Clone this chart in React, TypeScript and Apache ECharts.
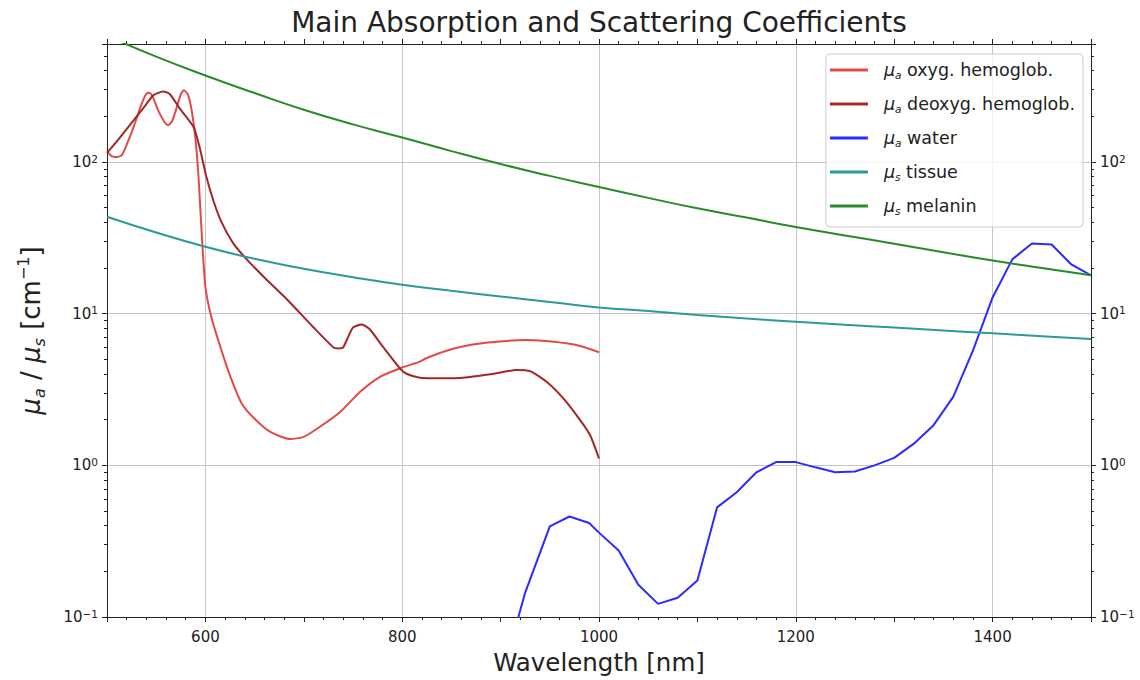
import React, { useEffect, useRef } from "react";
import * as echarts from "echarts";

const oxyWavelength = [500, 505, 510, 515, 520, 527, 535, 540, 543, 547, 552, 558, 562, 566, 570, 575, 578, 582, 586, 590, 593, 596, 600, 606, 615, 625, 637, 650, 666, 686, 700, 716, 737, 757, 777, 798, 818, 825, 845, 865, 896, 926, 954, 980, 1000];
const oxyMuA = [118, 109, 108, 111, 130, 170, 240, 282, 286, 265, 219, 185, 175, 185, 220, 280, 297, 280, 220, 140, 80, 36, 15, 9.5, 6.1, 3.9, 2.55, 2.03, 1.66, 1.49, 1.54, 1.79, 2.25, 3.04, 3.82, 4.37, 4.83, 5.1, 5.7, 6.15, 6.53, 6.7, 6.53, 6.15, 5.57];

const deoxyWavelength = [500, 510, 527, 540, 547, 557, 564, 574, 588, 594, 601, 608, 616, 628, 642, 662, 683, 710, 730, 735, 740, 745, 750, 759, 767, 780, 798, 805, 818, 840, 862, 896, 916, 930, 947, 964, 981, 991, 1000];
const deoxyMuA = [115, 137, 188, 241, 275, 292, 280, 225, 170, 126, 80, 56, 40.6, 29.3, 22.8, 16.8, 12.4, 8.1, 6.0, 5.9, 6.0, 7.0, 8.1, 8.5, 7.9, 6.1, 4.33, 4.0, 3.78, 3.75, 3.78, 4.05, 4.26, 4.18, 3.54, 2.75, 1.98, 1.58, 1.11];

const waterWavelength = [915, 925, 950, 970, 990, 1000, 1020, 1040, 1060, 1080, 1100, 1120, 1140, 1160, 1180, 1200, 1220, 1240, 1260, 1280, 1300, 1320, 1340, 1360, 1380, 1400, 1420, 1440, 1460, 1480, 1500];
const waterMuA = [0.085, 0.145, 0.396, 0.46, 0.417, 0.36, 0.274, 0.163, 0.122, 0.134, 0.174, 0.528, 0.665, 0.9, 1.05, 1.05, 0.97, 0.9, 0.91, 1.0, 1.12, 1.39, 1.84, 2.83, 5.7, 12.8, 22.8, 29, 28.6, 21.1, 17.9];

const scatterWavelength = [500, 550, 600, 650, 700, 750, 800, 850, 900, 950, 1000, 1050, 1100, 1150, 1200, 1250, 1300, 1350, 1400, 1450, 1500];
const tissueMuS = [43.6, 34.3, 27.6, 23.0, 19.8, 17.4, 15.5, 14.15, 13.0, 11.95, 11.0, 10.4, 9.8, 9.3, 8.85, 8.45, 8.1, 7.75, 7.42, 7.1, 6.81];
const melaninMuS = [680, 495, 372, 285, 221, 177, 145, 118, 97, 81, 68.5, 58, 49.5, 43, 37.3, 32.8, 28.9, 25.4, 22.4, 20.0, 17.9];

const seriesNames = ["μa oxyg. hemoglob.", "μa deoxyg. hemoglob.", "μa water", "μs tissue", "μs melanin"];
const seriesColors = ["#e24a4a", "#a32727", "#2b2bff", "#2a9a9a", "#2a8a2a"];

const FONT = "DejaVu Sans";

const pairs = (xs: number[], ys: number[]) => xs.map((x, i) => [x, ys[i]]);

const logLabel = (v: number) => {
  const e = Math.log10(v);
  const r = Math.round(e);
  if (Math.abs(e - r) > 1e-6) return "";
  const sup = r < 0 ? "−" + Math.abs(r) : String(r);
  return "{b|10}{sup|" + sup + "}";
};

const tickRich = {
  b: { fontSize: 15, fontFamily: FONT, color: "#222", lineHeight: 18 },
  sup: { fontSize: 10.5, fontFamily: FONT, color: "#222", lineHeight: 10, verticalAlign: "top" },
};

export default function App() {
  const ref = useRef<HTMLDivElement>(null);
  useEffect(() => {
    if (!ref.current) return;
    const chart = echarts.init(ref.current, null, { renderer: "svg" });
    const axisLineStyle = { color: "#222", width: 1 };
    const xCommon = {
      type: "value",
      min: 500,
      max: 1500,
      interval: 100,
      axisLine: { show: true, onZero: false, lineStyle: axisLineStyle },
      axisTick: { show: true, length: 5, lineStyle: axisLineStyle },
      minorTick: { show: true, splitNumber: 5, length: 3, lineStyle: axisLineStyle },
    };
    const yCommon = {
      type: "log",
      logBase: 10,
      min: 0.1,
      max: 600,
      axisLine: { show: true, onZero: false, lineStyle: axisLineStyle },
      axisTick: { show: true, length: 5, lineStyle: axisLineStyle },
      minorTick: { show: true, splitNumber: 9, length: 3, lineStyle: axisLineStyle },
      axisLabel: { formatter: logLabel, rich: tickRich, showMaxLabel: false },
    };
    const legendRich = {
      mu: { fontSize: 17.5, fontFamily: FONT, fontStyle: "italic", color: "#222", lineHeight: 20, padding: [0, 0, 0, 11] },
      sub: { fontSize: 10.5, fontFamily: FONT, fontStyle: "italic", color: "#222", lineHeight: 10, verticalAlign: "bottom" },
      t: { fontSize: 17.5, fontFamily: FONT, color: "#222", lineHeight: 20 },
    };
    const nameRich = {
      mu: { fontSize: 26, fontFamily: FONT, fontStyle: "italic", color: "#222", lineHeight: 32 },
      sub: { fontSize: 16, fontFamily: FONT, fontStyle: "italic", color: "#222", lineHeight: 15, verticalAlign: "bottom" },
      t: { fontSize: 26, fontFamily: FONT, color: "#222", lineHeight: 32 },
      sup: { fontSize: 16, fontFamily: FONT, color: "#222", lineHeight: 15, verticalAlign: "top" },
    };
    const datasets = [
      pairs(oxyWavelength, oxyMuA),
      pairs(deoxyWavelength, deoxyMuA),
      pairs(waterWavelength, waterMuA),
      pairs(scatterWavelength, tissueMuS),
      pairs(scatterWavelength, melaninMuS),
    ];
    const smoothing = [0.2, 0.2, false, 0.5, 0.5];
    chart.setOption({
      animation: false,
      backgroundColor: "#ffffff",
      textStyle: { fontFamily: FONT },
      graphic: [
        {
          type: "text",
          x: 599,
          y: 22,
          style: {
            text: "Main Absorption and Scattering Coefficients",
            fontSize: 28,
            fontFamily: FONT,
            fill: "#222",
            align: "center",
            verticalAlign: "middle",
          },
        },
      ],
      grid: { left: 107, right: 49, top: 44, bottom: 61, containLabel: false },
      legend: {
        orient: "vertical",
        right: 57,
        top: 54,
        icon: "rect",
        itemWidth: 38,
        itemHeight: 3,
        itemGap: 15,
        padding: [7, 8, 11, 4],
        backgroundColor: "rgba(255,255,255,0.8)",
        borderColor: "#cccccc",
        borderWidth: 1,
        borderRadius: 4,
        data: seriesNames,
        formatter: (name: string) => {
          const sub = name.charAt(1);
          const rest = name.slice(2);
          return "{mu|μ}{sub|" + sub + "}{t|" + rest + "}";
        },
        textStyle: { rich: legendRich },
      },
      xAxis: [
        {
          ...xCommon,
          position: "bottom",
          name: "Wavelength [nm]",
          nameLocation: "middle",
          nameGap: 33,
          nameTextStyle: { fontSize: 24.5, fontFamily: FONT, color: "#222" },
          axisLabel: {
            fontSize: 15,
            fontFamily: FONT,
            color: "#222",
            margin: 12,
            formatter: (v: number) => (v % 200 === 0 ? String(v) : ""),
          },
          splitLine: {
            show: true,
            showMinLine: true,
            showMaxLine: true,
            lineStyle: { color: ["rgba(0,0,0,0)", "#c4c4c4"], width: 1 },
          },
        },
        {
          ...xCommon,
          position: "top",
          axisLabel: { show: false },
          splitLine: { show: false },
        },
      ],
      yAxis: [
        {
          ...yCommon,
          position: "left",
          name: "{mu|μ}{sub|a}{t| / }{mu|μ}{sub|s}{t| [cm}{sup|−1}{t|]}",
          nameLocation: "middle",
          nameGap: 60,
          nameTextStyle: { rich: nameRich },
          axisLabel: { ...yCommon.axisLabel, margin: 9 },
          splitLine: { show: true, lineStyle: { color: "#c4c4c4", width: 1 } },
        },
        {
          ...yCommon,
          position: "right",
          axisLabel: { ...yCommon.axisLabel, margin: 9 },
          splitLine: { show: false },
        },
      ],
      series: seriesNames.map((name, i) => ({
        name,
        type: "line",
        xAxisIndex: 0,
        yAxisIndex: 0,
        data: datasets[i],
        showSymbol: false,
        smooth: smoothing[i],
        clip: true,
        lineStyle: { width: 2, color: seriesColors[i] },
        itemStyle: { color: seriesColors[i] },
        z: 3,
      })),
    });
    return () => chart.dispose();
  }, []);
  return <div ref={ref} style={{ position: "absolute", left: 0, top: 0, width: 1140, height: 680 }} />;
}
